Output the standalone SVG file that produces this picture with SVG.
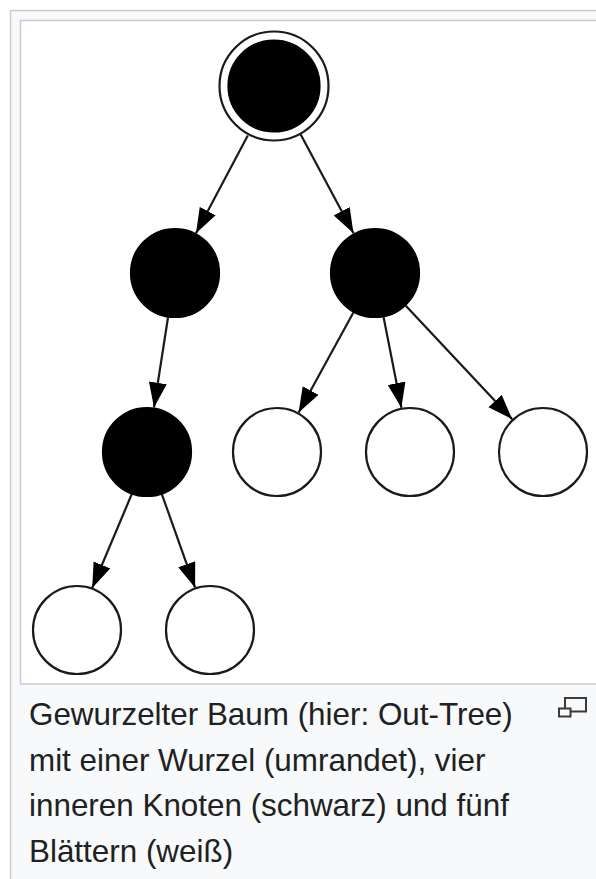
<svg xmlns="http://www.w3.org/2000/svg" width="596" height="879" viewBox="0 0 596 879">
  <style>
    .frame { fill: #f8f9fa; stroke: #c8ccd1; stroke-width: 1.5; }
    .canvas { fill: #ffffff; stroke: #c8ccd1; stroke-width: 1.5; }
    .inner { fill: #000000; stroke: #000000; stroke-width: 2.2; }
    .leaf { fill: #ffffff; stroke: #1a1a1a; stroke-width: 2.2; }
    .ring { fill: none; stroke: #1a1a1a; stroke-width: 2.2; }
    .edge { stroke: #1a1a1a; stroke-width: 2.2; fill: none; marker-end: url(#arrow); }
    .caption { font-family: "Liberation Sans", Arial, Helvetica, sans-serif; font-size: 31.4px; fill: #202122; }
    .icon { fill: #f8f9fa; stroke: #3a3a3a; stroke-width: 2; }
  </style>
  <defs>
    <!-- filled arrowhead, tip at the end of the path -->
    <marker id="arrow" markerUnits="userSpaceOnUse" markerWidth="27" markerHeight="19" refX="25" refY="9" orient="auto">
      <path d="M0,0 L25,9 L0,18 Z" fill="#000000"/>
    </marker>
  </defs>

  <rect x="0" y="0" width="596" height="879" fill="#ffffff"/>

  <!-- thumbnail frame and caption box -->
  <rect class="frame" x="10.5" y="10.5" width="620" height="900"/>
  <rect class="canvas" x="20.5" y="20.5" width="600" height="663.5"/>

  <!-- connectors (center to center, clipped at node boundaries) -->
  <g id="edges">
    <line class="edge" x1="247.8" y1="135.5" x2="196" y2="233.2"/>
    <line class="edge" x1="300.7" y1="134.6" x2="353.5" y2="233.2"/>
    <line class="edge" x1="168" y1="317.5" x2="154" y2="407.5"/>
    <line class="edge" x1="353.4" y1="312.5" x2="298.6" y2="412.5"/>
    <line class="edge" x1="383.6" y1="317.2" x2="401.4" y2="407.8"/>
    <line class="edge" x1="405.8" y1="305.8" x2="512.2" y2="419.2"/>
    <line class="edge" x1="131.8" y1="494" x2="92.2" y2="588"/>
    <line class="edge" x1="161.9" y1="494.3" x2="195.1" y2="587.7"/>
  </g>

  <!-- root: double circle -->
  <g id="root">
    <circle class="ring" cx="274" cy="86" r="54.5"/>
    <circle class="inner" cx="274" cy="86" r="45.5"/>
  </g>

  <!-- inner nodes -->
  <g id="n1"><circle class="inner" cx="175" cy="273" r="44"/></g>
  <g id="n2"><circle class="inner" cx="375" cy="273" r="44"/></g>
  <g id="n3"><circle class="inner" cx="147" cy="452" r="44"/></g>

  <!-- leaves -->
  <g id="l1"><circle class="leaf" cx="277" cy="452" r="44"/></g>
  <g id="l2"><circle class="leaf" cx="410" cy="452" r="44"/></g>
  <g id="l3"><circle class="leaf" cx="543" cy="452" r="44"/></g>
  <g id="l4"><circle class="leaf" cx="77" cy="630" r="44"/></g>
  <g id="l5"><circle class="leaf" cx="210" cy="630" r="44"/></g>

  <!-- caption -->
  <g id="caption">
    <text class="caption" x="29" y="725">Gewurzelter Baum (hier: Out-Tree)</text>
    <text class="caption" x="29" y="771">mit einer Wurzel (umrandet), vier</text>
    <text class="caption" x="29" y="816">inneren Knoten (schwarz) und fünf</text>
    <text class="caption" x="29" y="862">Blättern (weiß)</text>
  </g>

  <!-- enlarge icon -->
  <g id="magnify">
    <rect class="icon" x="565" y="698" width="21" height="13.5"/>
    <rect class="icon" x="559" y="708.5" width="11.5" height="8"/>
  </g>
</svg>
